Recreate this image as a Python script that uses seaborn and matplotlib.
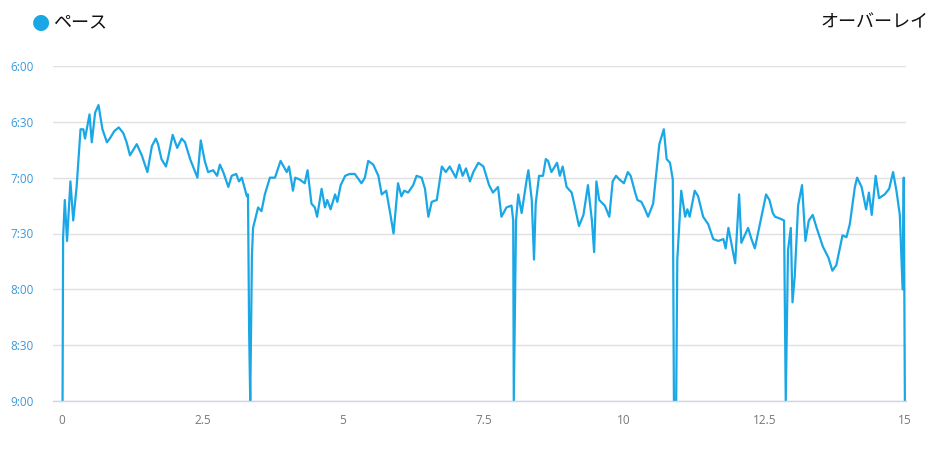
import matplotlib
matplotlib.use("Agg")
import matplotlib.pyplot as plt
import seaborn as sns
import pandas as pd

# distance (km)
distance_km = [
    0.01, 0.02, 0.05, 0.09, 0.15, 0.20, 0.26, 0.33, 0.38, 0.41, 0.49, 0.53, 0.59, 0.65, 0.72, 0.80,
    0.85, 0.93, 1.01, 1.09, 1.15, 1.21, 1.33, 1.42, 1.52, 1.60, 1.67, 1.71, 1.77, 1.85, 1.89, 1.97,
    2.05, 2.13, 2.19, 2.28, 2.41, 2.47, 2.54, 2.60, 2.69, 2.76, 2.81, 2.87, 2.96, 3.02, 3.10, 3.15,
    3.20, 3.29, 3.31, 3.33, 3.35, 3.38, 3.40, 3.49, 3.55, 3.61, 3.70, 3.79, 3.89, 4.00, 4.04, 4.11,
    4.15, 4.23, 4.32, 4.37, 4.44, 4.50, 4.54, 4.62, 4.68, 4.72, 4.78, 4.86, 4.90, 4.96, 5.04, 5.12,
    5.21, 5.33, 5.39, 5.45, 5.54, 5.63, 5.69, 5.77, 5.84, 5.90, 5.98, 6.04, 6.09, 6.16, 6.25, 6.31,
    6.40, 6.46, 6.52, 6.58, 6.67, 6.76, 6.83, 6.90, 7.01, 7.07, 7.13, 7.19, 7.26, 7.32, 7.41, 7.50,
    7.60, 7.67, 7.76, 7.82, 7.91, 8.00, 8.03, 8.04, 8.08, 8.12, 8.18, 8.27, 8.30, 8.36, 8.40, 8.43,
    8.49, 8.56, 8.61, 8.65, 8.71, 8.81, 8.86, 8.91, 8.98, 9.07, 9.13, 9.20, 9.28, 9.36, 9.43, 9.47,
    9.51, 9.56, 9.66, 9.74, 9.80, 9.86, 9.92, 10.00, 10.07, 10.12, 10.20, 10.24, 10.31, 10.36, 10.43, 10.52,
    10.63, 10.71, 10.76, 10.82, 10.87, 10.89, 10.93, 10.95, 11.02, 11.09, 11.13, 11.17, 11.26, 11.32, 11.41, 11.50,
    11.59, 11.68, 11.77, 11.81, 11.86, 11.98, 12.05, 12.09, 12.15, 12.21, 12.27, 12.33, 12.42, 12.53, 12.59, 12.65,
    12.69, 12.78, 12.85, 12.88, 12.92, 12.97, 13.00, 13.04, 13.10, 13.17, 13.23, 13.29, 13.36, 13.43, 13.54, 13.64,
    13.71, 13.78, 13.89, 13.96, 14.02, 14.11, 14.15, 14.23, 14.31, 14.36, 14.41, 14.48, 14.54, 14.64, 14.72, 14.79,
    14.85, 14.91, 14.96, 14.98, 15.00,
]

# pace (seconds per km)
pace_sec = [
    540, 452, 432, 454, 422, 443, 425, 394, 394, 399, 386, 401, 385, 381, 394, 401,
    399, 395, 393, 396, 401, 408, 402, 408, 417, 403, 399, 402, 410, 414, 409, 397,
    404, 399, 401, 410, 420, 400, 411, 417, 416, 419, 413, 417, 425, 419, 418, 422,
    420, 430, 429, 502, 540, 462, 447, 436, 438, 429, 420, 420, 411, 417, 414, 427,
    420, 421, 423, 416, 434, 436, 441, 426, 436, 432, 437, 429, 433, 424, 419, 418,
    418, 423, 420, 411, 413, 419, 429, 427, 439, 450, 423, 430, 427, 428, 424, 419,
    420, 426, 441, 433, 432, 414, 417, 414, 420, 413, 419, 415, 422, 417, 412, 414,
    424, 428, 425, 441, 436, 435, 443, 540, 443, 429, 439, 421, 416, 432, 464, 434,
    419, 419, 410, 411, 417, 412, 419, 414, 425, 428, 436, 446, 440, 424, 443, 460,
    422, 432, 435, 441, 422, 419, 421, 423, 417, 419, 428, 432, 433, 436, 441, 434,
    402, 394, 410, 412, 421, 540, 540, 464, 427, 441, 437, 441, 427, 430, 441, 445,
    453, 454, 453, 458, 447, 466, 429, 455, 451, 447, 453, 458, 445, 429, 432, 439,
    441, 442, 443, 540, 459, 447, 487, 473, 435, 424, 454, 443, 440, 447, 457, 463,
    470, 467, 451, 452, 445, 425, 420, 425, 437, 428, 440, 419, 431, 429, 426, 417,
    427, 440, 480, 420, 540,
]

x_ticks = [0, 2.5, 5, 7.5, 10, 12.5, 15]
x_tick_labels = ["0", "2.5", "5", "7.5", "10", "12.5", "15"]
y_ticks = [360, 390, 420, 450, 480, 510, 540]
y_tick_labels = ["6:00", "6:30", "7:00", "7:30", "8:00", "8:30", "9:00"]
series_name = "ペース"
overlay_label = "オーバーレイ"

LINE = "#1aa7e6"

sns.set_theme(style="white")
plt.rcParams["font.family"] = ["Noto Sans CJK JP", "DejaVu Sans"]

W, H = 931, 451
fig = plt.figure(figsize=(W / 100, H / 100), dpi=100)
left_px, right_px, top_px, bottom_px = 53, 906, 66, 401
ax = fig.add_axes([left_px / W, 1 - bottom_px / H, (right_px - left_px) / W, (bottom_px - top_px) / H])

df = pd.DataFrame({"distance": distance_km, "pace": pace_sec})
sns.lineplot(data=df, x="distance", y="pace", ax=ax, color=LINE, linewidth=1.6,
             sort=False, estimator=None, legend=False)

# x range so that 0 sits at px 62 and 15 at px 905
ax.set_xlim(-0.16, 15.02)
ax.set_ylim(540, 360)

ax.set_yticks(y_ticks)
ax.set_yticklabels(y_tick_labels)
ax.set_xticks(x_ticks)
ax.set_xticklabels(x_tick_labels)

ax.grid(axis="y", color="#e0e0e0", linewidth=1)
ax.grid(axis="x", visible=False)
ax.set_axisbelow(True)
for s in ["top", "right", "left"]:
    ax.spines[s].set_visible(False)
ax.spines["bottom"].set_color("#ccd6eb")
ax.spines["bottom"].set_linewidth(1)

ax.tick_params(axis="y", length=0, pad=14, labelsize=8.5, labelcolor="#3a9ad9")
ax.tick_params(axis="x", length=0, pad=9, labelsize=8.5, labelcolor="#777777")
for lab in ax.get_xticklabels() + ax.get_yticklabels():
    lab.set_family(["Open Sans", "DejaVu Sans"])
ax.set_xlabel("")
ax.set_ylabel("")

# legend-like header
fig.text(41 / W, 1 - 22 / H, "●", color=LINE, fontsize=15, ha="center", va="center",
         family=["DejaVu Sans"])
fig.text(53 / W, 1 - 22 / H, series_name, color="#111111", fontsize=13, ha="left", va="center")
fig.text(820 / W, 1 - 22 / H, overlay_label, color="#111111", fontsize=13, ha="left", va="center")

fig.savefig("out.png", dpi=100)
